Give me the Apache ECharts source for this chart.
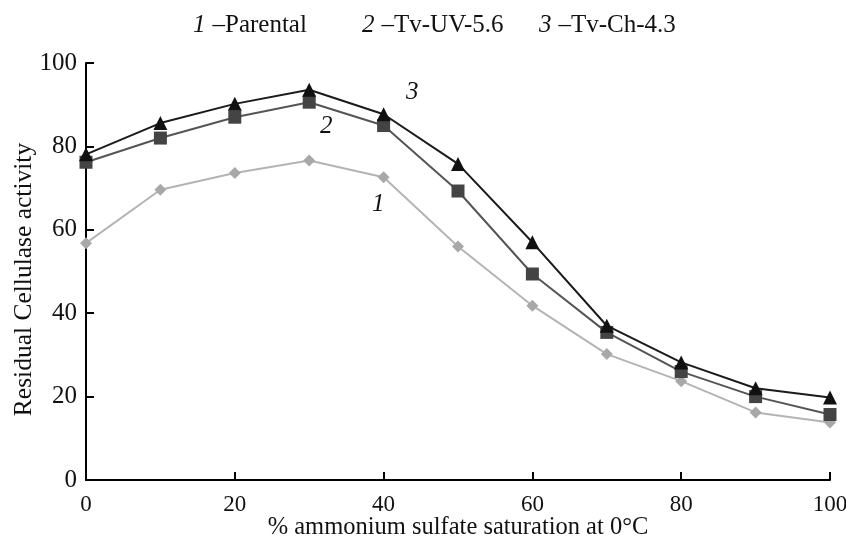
<!DOCTYPE html>
<html>
<head>
<meta charset="utf-8">
<script src="https://cdn.jsdelivr.net/npm/echarts@6/dist/echarts.min.js"></script>
<style>
  html, body { margin: 0; padding: 0; background: #fff; }
  #chart { width: 846px; height: 544px; }
</style>
</head>
<body>
<div id="chart"></div>
<script>
// saturation % (x) and residual activity for each strain
const saturation = [0, 10, 20, 30, 40, 50, 60, 70, 80, 90, 100]
const parental = [56.8, 69.6, 73.6, 76.6, 72.6, 56.0, 41.8, 30.2, 23.7, 16.2, 13.8]
const tvUV = [76.2, 82.0, 87.0, 90.6, 85.0, 69.3, 49.4, 35.4, 26.0, 20.0, 15.7]
const tvCh = [78.1, 85.6, 90.2, 93.6, 87.7, 75.8, 57.0, 37.0, 28.2, 22.0, 19.8]
const seriesNames = ['Parental', 'Tv-UV-5.6', 'Tv-Ch-4.3']
const xTicks = [0, 20, 40, 60, 80, 100]
const yTicks = [0, 20, 40, 60, 80, 100]

const serif = '"Liberation Serif", "DejaVu Serif", serif'

function pairs(ys) {
  return saturation.map((x, i) => [x, ys[i]])
}

// one legend per entry so each can sit where the original puts it
function legendAt(name, idx, left) {
  return {
    top: 13,
    left: left,
    padding: 0,
    icon: 'none',
    itemWidth: 0,
    itemHeight: 0,
    textStyle: {
      fontFamily: serif,
      fontSize: 25,
      color: '#111',
      rich: {
        n: { fontFamily: serif, fontSize: 25, fontStyle: 'italic', color: '#111', padding: [0, 7, 0, 0] },
        t: { fontFamily: serif, fontSize: 25, color: '#111' }
      }
    },
    formatter: () => '{n|' + idx + '}{t|\u2013' + name + '}',
    data: [name]
  }
}

const chart = echarts.init(document.getElementById('chart'))

const option = {
  animation: false,
  grid: {
    left: 86,
    right: 16,
    top: 63,
    bottom: 64,
    outerBoundsMode: 'none'
  },
  legend: [
    legendAt(seriesNames[0], 1, 188),
    legendAt(seriesNames[1], 2, 357),
    legendAt(seriesNames[2], 3, 534)
  ],
  xAxis: {
    type: 'value',
    min: 0,
    max: 100,
    interval: 20,
    name: '% ammonium sulfate saturation at 0\u00b0C',
    nameLocation: 'middle',
    nameGap: 35,
    nameMoveOverlap: false,
    nameTextStyle: { fontFamily: serif, fontSize: 24.5, color: '#111' },
    axisLine: { lineStyle: { color: '#000', width: 2 } },
    axisTick: { inside: true, length: 8, lineStyle: { color: '#000', width: 2 } },
    axisLabel: {
      fontFamily: serif, fontSize: 23, color: '#111', margin: 13,
      formatter: v => xTicks.includes(v) ? String(v) : ''
    },
    splitLine: { show: false }
  },
  yAxis: {
    type: 'value',
    min: 0,
    max: 100,
    interval: 20,
    name: 'Residual Cellulase activity',
    nameLocation: 'middle',
    nameGap: 49,
    nameMoveOverlap: false,
    nameTextStyle: { fontFamily: serif, fontSize: 25.5, color: '#111', padding: [0, 16, 0, 0] },
    axisLine: { show: true, lineStyle: { color: '#000', width: 2 } },
    axisTick: { show: true, inside: true, length: 8, lineStyle: { color: '#000', width: 2 } },
    axisLabel: {
      fontFamily: serif, fontSize: 25, color: '#111', margin: 9,
      formatter: v => yTicks.includes(v) ? String(v) : ''
    },
    splitLine: { show: false }
  },
  series: [
    {
      name: seriesNames[0],
      type: 'line',
      data: pairs(parental),
      symbol: 'diamond',
      symbolSize: 12,
      lineStyle: { color: '#b4b4b4', width: 2 },
      itemStyle: { color: '#a8a8a8' },
      z: 2
    },
    {
      name: seriesNames[1],
      type: 'line',
      data: pairs(tvUV),
      symbol: 'rect',
      symbolSize: 13,
      lineStyle: { color: '#555', width: 2 },
      itemStyle: { color: '#444' },
      z: 3
    },
    {
      name: seriesNames[2],
      type: 'line',
      data: pairs(tvCh),
      symbol: 'triangle',
      symbolSize: 14,
      lineStyle: { color: '#1a1a1a', width: 2 },
      itemStyle: { color: '#111' },
      z: 4
    }
  ],
  graphic: [
    { type: 'text', left: 406, top: 80, style: { text: '3', fontFamily: serif, fontSize: 25, fontStyle: 'italic', fill: '#111' } },
    { type: 'text', left: 320, top: 114, style: { text: '2', fontFamily: serif, fontSize: 25, fontStyle: 'italic', fill: '#111' } },
    { type: 'text', left: 372, top: 192, style: { text: '1', fontFamily: serif, fontSize: 25, fontStyle: 'italic', fill: '#111' } }
  ]
}

chart.setOption(option)
</script>
</body>
</html>
